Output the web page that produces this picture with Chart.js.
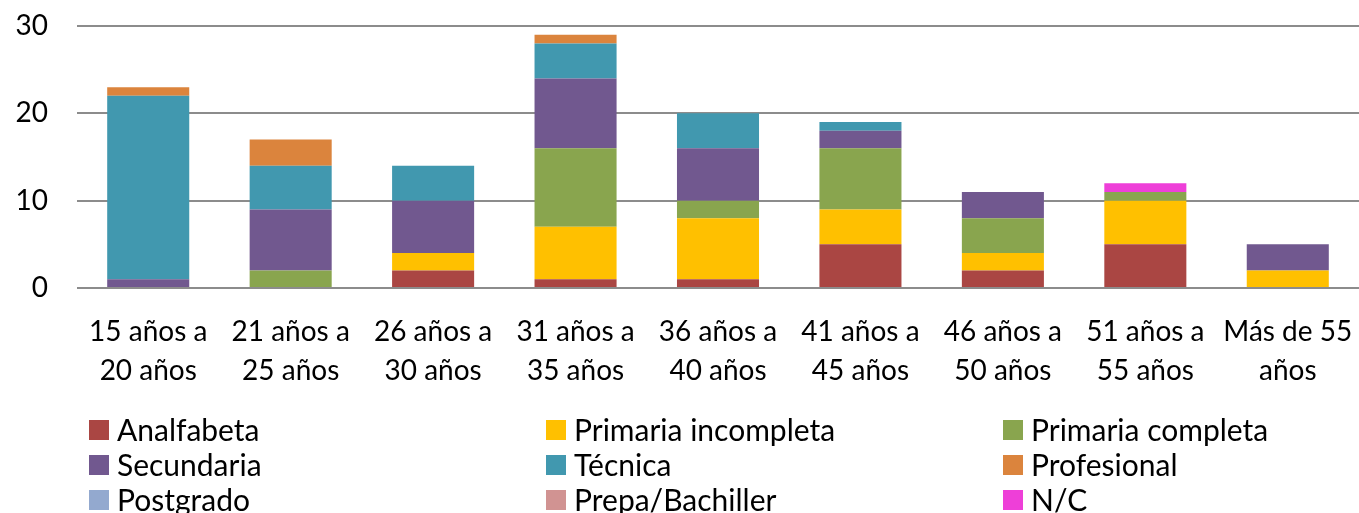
<!DOCTYPE html>
<html>
<head>
<meta charset="utf-8">
<script src="https://cdn.jsdelivr.net/npm/chart.js@4.4.1/dist/chart.umd.min.js"></script>
<style>
  html, body { margin: 0; padding: 0; background: #fff; }
  #wrap { position: relative; width: 1359px; height: 513px; }
</style>
</head>
<body>
<div id="wrap"><canvas id="myChart" width="1359" height="513"></canvas></div>
<script>
const categories = [
  ['15 años a', '20 años'],
  ['21 años a', '25 años'],
  ['26 años a', '30 años'],
  ['31 años a', '35 años'],
  ['36 años a', '40 años'],
  ['41 años a', '45 años'],
  ['46 años a', '50 años'],
  ['51 años a', '55 años'],
  ['Más de 55', 'años']
];

const analfabeta = [0, 0, 2, 1, 1, 5, 2, 5, 0];
const primariaIncompleta = [0, 0, 2, 6, 7, 4, 2, 5, 2];
const primariaCompleta = [0, 2, 0, 9, 2, 7, 4, 1, 0];
const secundaria = [1, 7, 6, 8, 6, 2, 3, 0, 3];
const tecnica = [21, 5, 4, 4, 4, 1, 0, 0, 0];
const profesional = [1, 3, 0, 1, 0, 0, 0, 0, 0];
const postgrado = [0, 0, 0, 0, 0, 0, 0, 0, 0];
const prepaBachiller = [0, 0, 0, 0, 0, 0, 0, 0, 0];
const noContesta = [0, 0, 0, 0, 0, 0, 0, 1, 0];

const yTicks = [0, 10, 20, 30];

const fontName = 'Lato';

const makeSet = (label, data, color) => ({
  label: label,
  data: data,
  backgroundColor: color,
  borderWidth: 0,
  barPercentage: 0.576,
  categoryPercentage: 1.0
});

// leyenda en tres columnas, dibujada en el canvas
const gridLegend = {
  id: 'gridLegend',
  afterDraw(chart) {
    const ctx = chart.ctx;
    ctx.save();
    ctx.font = '30px ' + fontName;
    ctx.textBaseline = 'middle';
    ctx.textAlign = 'left';
    chart.data.datasets.forEach((ds, i) => {
      const col = i % 3;
      const row = Math.floor(i / 3);
      const x = 89 + col * 457;
      const y = 420 + row * 35;
      ctx.fillStyle = ds.backgroundColor;
      ctx.fillRect(x, y, 20, 20);
      ctx.fillStyle = '#000';
      ctx.fillText(ds.label, x + 28, y + 11);
    });
    ctx.restore();
  }
};

const ctx = document.getElementById('myChart').getContext('2d');
const chart = new Chart(ctx, {
  type: 'bar',
  data: {
    labels: categories,
    datasets: [
      makeSet('Analfabeta', analfabeta, '#AA4643'),
      makeSet('Primaria incompleta', primariaIncompleta, '#FFC000'),
      makeSet('Primaria completa', primariaCompleta, '#89A54E'),
      makeSet('Secundaria', secundaria, '#71588F'),
      makeSet('Técnica', tecnica, '#4198AF'),
      makeSet('Profesional', profesional, '#DB843D'),
      makeSet('Postgrado', postgrado, '#93A9CF'),
      makeSet('Prepa/Bachiller', prepaBachiller, '#D19392'),
      makeSet('N/C', noContesta, '#EE3FD8')
    ]
  },
  options: {
    responsive: false,
    animation: false,
    layout: { padding: { top: 26, left: 0, right: 0, bottom: 0 } },
    plugins: {
      legend: { display: false },
      tooltip: { enabled: false }
    },
    scales: {
      x: {
        stacked: true,
        grid: { display: false, drawTicks: false },
        border: { display: false },
        ticks: {
          color: '#000',
          font: { family: fontName, size: 28, lineHeight: 1.4 },
          padding: 24,
          maxRotation: 0,
          autoSkip: false
        },
        afterFit: (s) => {
          s.height = 225;
          s.paddingLeft = 0;
          s.paddingRight = 0;
        }
      },
      y: {
        stacked: true,
        min: 0,
        max: 30,
        afterBuildTicks: (s) => { s.ticks = yTicks.map(v => ({ value: v })); },
        grid: { color: '#8c8c8c', lineWidth: 2, drawTicks: false },
        border: { display: false },
        ticks: {
          color: '#000',
          font: { family: fontName, size: 28 },
          padding: 29
        },
        afterFit: (s) => {
          s.width = 77;
          s.paddingTop = 0;
          s.paddingBottom = 0;
        }
      }
    }
  },
  plugins: [gridLegend]
});
</script>
</body>
</html>
